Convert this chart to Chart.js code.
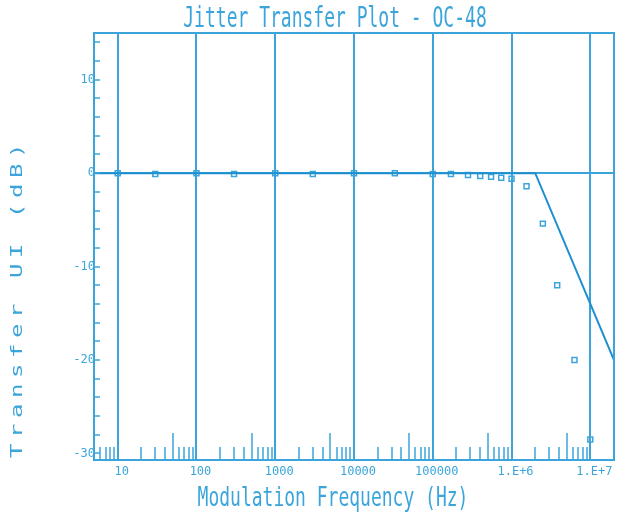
<!DOCTYPE html>
<html>
<head>
<meta charset="utf-8">
<script src="https://cdn.jsdelivr.net/npm/chart.js@4/dist/chart.umd.min.js"></script>
<style>
  html, body { margin: 0; padding: 0; background: #fff; }
  #zone { width: 628px; height: 518px; }
</style>
</head>
<body>
<div id="zone"><canvas id="chartJitter"></canvas></div>
<script>
// ===== Jitter Transfer Plot - OC-48 =====

// Masque de transfert (ligne continue)
const freqMasque = [5, 2000000, 20000000];
const gainMasque = [0, 0, -20];

// Points mesurés (carrés)
const freqMesure = [10, 30, 100, 300, 1000, 3000, 10000, 33000, 100000, 170000, 280000,
  400000, 550000, 740000, 1000000, 1550000, 2500000, 3800000, 6300000, 10000000];
const gainMesure = [0, -0.1, 0, -0.1, 0, -0.1, 0, 0, -0.1, -0.1, -0.2,
  -0.3, -0.4, -0.5, -0.6, -1.4, -5.4, -12, -20, -28.5];

// Graduations
const decadesX = [10, 100, 1000, 10000, 100000, 1000000, 10000000];
const etiquettesX = ["10", "100", "1000", "10000", "100000", "1.E+6", "1.E+7"];
const graduationsY = [10, 0, -10, -20, -30];
const etiquettesY = ["10", "0", "-10", "-20", "-30"];

const bleu = "#3ba5db";
const bleuFonce = "#1f8fd0";
const police = "'DejaVu Sans Mono', monospace";

function estDecade(v) {
  return decadesX.some(d => Math.abs(d - v) / d < 1e-6);
}

// cadre, petites graduations vers l'intérieur et titres
const decorations = {
  id: "decorations",
  afterDraw(chart) {
    const ctx = chart.ctx;
    const a = chart.chartArea;
    const sx = chart.scales.x;
    const sy = chart.scales.y;
    ctx.save();
    ctx.strokeStyle = bleu;
    ctx.lineWidth = 2;
    ctx.strokeRect(a.left, a.top, a.right - a.left, a.bottom - a.top);

    ctx.lineWidth = 1.5;
    ctx.beginPath();
    sx.ticks.forEach(t => {
      if (estDecade(t.value)) return;
      const x = Math.round(sx.getPixelForValue(t.value));
      const mantisse = Math.round(t.value / Math.pow(10, Math.floor(Math.log10(t.value) + 1e-9)));
      const long = mantisse === 5 ? 27 : 13;
      ctx.moveTo(x, a.bottom);
      ctx.lineTo(x, a.bottom - long);
    });
    sy.ticks.forEach(t => {
      const y = Math.round(sy.getPixelForValue(t.value));
      ctx.moveTo(a.left, y);
      ctx.lineTo(a.left + 6, y);
    });
    ctx.stroke();

    ctx.fillStyle = bleu;
    ctx.textAlign = "center";
    ctx.textBaseline = "middle";
    ctx.font = "18px " + police;

    ctx.save();
    ctx.translate(335, 20);
    ctx.scale(1, 1.6);
    ctx.fillText("Jitter Transfer Plot - OC-48", 0, 0);
    ctx.restore();

    ctx.save();
    ctx.translate(333, 499);
    ctx.scale(1, 1.5);
    ctx.fillText("Modulation Frequency (Hz)", 0, 0);
    ctx.restore();

    ctx.save();
    ctx.translate(18, 298);
    ctx.rotate(-Math.PI / 2);
    ctx.scale(1.5, 1);
    ctx.font = "16px " + police;
    ctx.letterSpacing = "3.7px";
    ctx.fillText("Transfer UI (dB)", 0, 0);
    ctx.restore();

    ctx.restore();
  }
};

new Chart(document.getElementById("chartJitter"), {
  type: "scatter",
  data: {
    datasets: [
      {
        data: freqMasque.map((f, i) => ({ x: f, y: gainMasque[i] })),
        showLine: true,
        borderColor: bleuFonce,
        borderWidth: 2,
        pointRadius: 0,
        fill: false
      },
      {
        data: freqMesure.map((f, i) => ({ x: f, y: gainMesure[i] })),
        showLine: false,
        pointStyle: "rect",
        pointRadius: 3.5,
        borderColor: bleu,
        borderWidth: 1.5,
        backgroundColor: "transparent"
      }
    ]
  },
  options: {
    responsive: true,
    maintainAspectRatio: false,
    animation: false,
    layout: { padding: { top: 33, right: 14, left: 0, bottom: 0 } },
    plugins: {
      legend: { display: false },
      title: { display: false },
      tooltip: { enabled: false }
    },
    scales: {
      x: {
        type: "logarithmic",
        min: 5,
        max: 20000000,
        afterBuildTicks: scale => {
          const ticks = [];
          for (let e = 0; e <= 7; e++) {
            for (let m = 1; m <= 9; m++) {
              const v = m * Math.pow(10, e);
              if (v >= 5 && v <= 20000000) ticks.push({ value: v });
            }
          }
          scale.ticks = ticks;
        },
        afterFit: scale => { scale.height = 58; },
        grid: {
          drawTicks: false,
          color: c => (c.tick && estDecade(c.tick.value) ? bleu : "transparent"),
          lineWidth: 2
        },
        border: { color: bleu, width: 2 },
        ticks: {
          autoSkip: false,
          maxRotation: 0,
          padding: 5,
          labelOffset: 4,
          color: bleu,
          font: { family: police, size: 12 },
          callback: v => {
            const i = decadesX.findIndex(d => Math.abs(d - v) / d < 1e-6);
            return i >= 0 ? etiquettesX[i] : "";
          }
        }
      },
      y: {
        min: -30.7,
        max: 15,
        afterBuildTicks: scale => {
          const ticks = [];
          for (let v = -30; v <= 14; v += 2) ticks.push({ value: v });
          scale.ticks = ticks;
        },
        afterFit: scale => { scale.width = 94; },
        grid: {
          drawTicks: false,
          color: c => (c.tick && c.tick.value === 0 ? bleu : "transparent"),
          lineWidth: 2
        },
        border: { color: bleu, width: 2 },
        ticks: {
          autoSkip: false,
          padding: -1,
          color: bleu,
          font: { family: police, size: 12 },
          callback: v => {
            const i = graduationsY.indexOf(v);
            return i >= 0 ? etiquettesY[i] : "";
          }
        }
      }
    }
  },
  plugins: [decorations]
});
</script>
</body>
</html>
